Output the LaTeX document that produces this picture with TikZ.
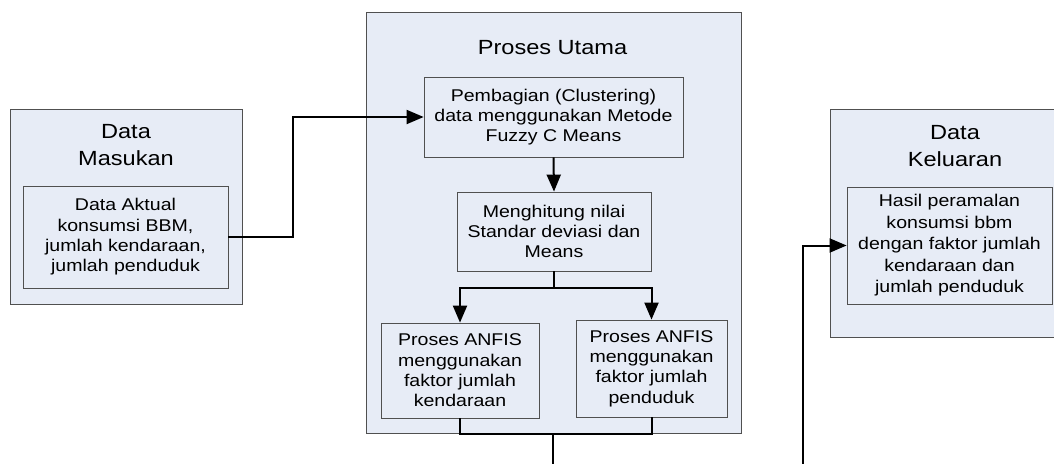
\documentclass[tikz,border=0pt]{standalone}
\usepackage{fontspec}
\setmainfont{Liberation Sans}[FakeStretch=1.15]
\usetikzlibrary{arrows.meta}
\definecolor{boxfill}{HTML}{E7ECF6}
\definecolor{boxline}{HTML}{505050}
\begin{document}
\begin{tikzpicture}[x=1pt,y=-1pt,
  container/.style={draw=boxline, fill=boxfill, line width=0.8pt, inner sep=0pt},
  procbox/.style={draw=boxline, fill=boxfill, line width=0.8pt, inner sep=0pt, align=center,
    font=\fontsize{17}{20.3}\selectfont},
  title/.style={align=center, inner sep=0pt, font=\fontsize{20.5}{27}\selectfont},
  conn/.style={line width=2pt, black},
  arr/.style={conn, -{Triangle[length=17pt,width=14pt]}}]
\useasboundingbox (0,0) rectangle (1054,463);
\clip (0,0) rectangle (1054,463);
% containers
\node[container, minimum width=232pt, minimum height=195pt] (cin) at (126,206.5) {};
\node[container, minimum width=375pt, minimum height=421pt] (cmain) at (553.5,222.5) {};
\node[container, minimum width=250pt, minimum height=228pt] (cout) at (955,223) {};
% titles
\node[title] (tin) at (126,145.5) {Data\\Masukan};
\node[title] (tmain) at (552.5,48) {Proses Utama};
\node[title] (tout) at (955,146) {Data\\Keluaran};
% process boxes
\node[procbox, minimum width=205pt, minimum height=102pt] (li) at (125.5,237)
  {Data Aktual\\konsumsi BBM,\\jumlah kendaraan,\\jumlah penduduk};
\node[procbox, minimum width=259pt, minimum height=80pt] (pb) at (553.5,117)
  {Pembagian (Clustering)\\data menggunakan Metode\\Fuzzy C Means};
\node[procbox, minimum width=194pt, minimum height=79pt] (mh) at (554,231.5)
  {Menghitung nilai\\Standar deviasi dan\\Means};
\node[procbox, minimum width=158pt, minimum height=95pt] (al) at (460,370.5)
  {Proses ANFIS\\menggunakan\\faktor jumlah\\kendaraan};
\node[procbox, minimum width=151pt, minimum height=97pt] (ar) at (651.5,368.5)
  {Proses ANFIS\\menggunakan\\faktor jumlah\\penduduk};
\node[procbox, minimum width=205pt, minimum height=117pt,
  font=\fontsize{17}{21.5}\selectfont] (ri) at (949.5,245.5)
  {Hasil peramalan\\konsumsi bbm\\dengan faktor jumlah\\kendaraan dan\\jumlah penduduk};
% connectors
\draw[arr] (li.east) -- ++(65,0) |- (pb.west);
\draw[arr] (pb.south) -- (mh.north);
\draw[conn] (mh.south) -- ++(0,17) coordinate (br);
\draw[arr] (br) -| (al.north);
\draw[arr] (br) -| (ar.north);
\draw[conn] (al.south) -- ++(0,16) -| (ar.south);
\coordinate (m) at (553,434);
\coordinate (out1) at (553,470);
\draw[conn] (m) -- (out1);
\coordinate (in2) at (803,470);
\draw[arr] (in2) |- (ri.west);
\end{tikzpicture}
\end{document}
